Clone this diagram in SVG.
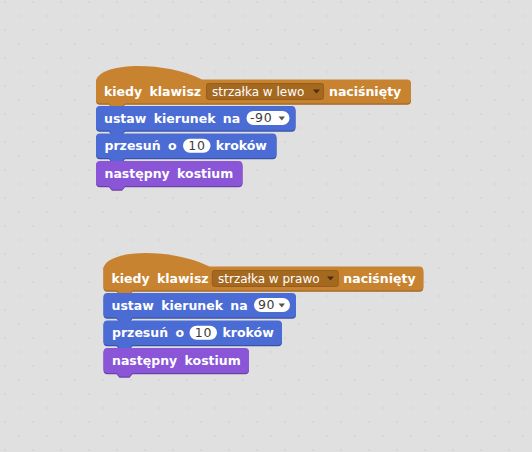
<svg xmlns="http://www.w3.org/2000/svg" xmlns:xlink="http://www.w3.org/1999/xlink" width="532" height="452" viewBox="0 0 532 452">
<style>
.b{font-family:"DejaVu Sans","Verdana",sans-serif;font-weight:bold;font-size:12.5px;fill:#ffffff;word-spacing:3px}
.dd{font-family:"DejaVu Sans","Verdana",sans-serif;font-size:12px;fill:#ffffff}
.num{font-family:"DejaVu Sans","Verdana",sans-serif;font-size:12.5px;fill:#3c3c3c;letter-spacing:0.6px}
.hat{fill:#c88330}.hat .sh{fill:#9f6522}
.mot{fill:#4a6cd4}.mot .sh{fill:#3852a6}
.look{fill:#8a55d7}.look .sh{fill:#6a41a6}
.ddbox{fill:#a5681f;stroke:#8f5818;stroke-width:0.8}
.bub{fill:#ffffff}
.tri{fill:#4a3010}
.tri2{fill:#555555}
</style>
<defs>
<pattern id="dots" width="28" height="28" patternUnits="userSpaceOnUse">
<circle cx="5" cy="2" r="0.9" fill="#d3d3d3"/>
<circle cx="19" cy="16" r="0.9" fill="#d3d3d3"/>
</pattern>
</defs>
<rect width="532" height="452" fill="#e0e0e0"/>
<rect width="532" height="452" fill="url(#dots)"/>

<g id="script1">
<g id="s1-hat" class="hat">
<use xlink:href="#p1a" class="sh" transform="translate(0,1.2)"/>
<path id="p1a" d="M 96,99.5 V 80.5 C 102,61.5 166,61.5 202,79.5 H 407 Q 411,79.5 411,83.5 V 99.5 Q 411,103.5 407,103.5 H 125 L 122,107 H 112 L 109,103.5 H 100 Q 96,103.5 96,99.5 Z"/>
<text class="b" x="104" y="96">kiedy klawisz</text>
<rect class="ddbox" x="206.5" y="83.5" width="117" height="16" rx="2"/>
<text class="dd" x="212" y="96">strzałka w lewo</text>
<path class="tri" d="M 313,89.5 H 320 L 316.5,93.5 Z"/>
<text class="b" x="329" y="96">naciśnięty</text>
</g>
<g id="s1-dir" class="mot">
<use xlink:href="#p1b" class="sh" transform="translate(0,1.2)"/>
<path id="p1b" d="M 100,106 H 291.5 Q 295.5,106 295.5,110 V 126.5 Q 295.5,130.5 291.5,130.5 H 125 L 122,134 H 112 L 109,130.5 H 100 Q 96,130.5 96,126.5 V 110 Q 96,106 100,106 Z"/>
<text class="b" x="104" y="122.7">ustaw kierunek na</text>
<rect class="bub" x="246.5" y="111" width="43" height="14" rx="7"/>
<text class="num" x="250" y="122.3">-90</text>
<path class="tri2" d="M 278.5,116.5 H 285 L 281.75,120.5 Z"/>
</g>
<g id="s1-move" class="mot">
<use xlink:href="#p1c" class="sh" transform="translate(0,1.2)"/>
<path id="p1c" d="M 100,133.5 H 272.5 Q 276.5,133.5 276.5,137.5 V 154 Q 276.5,158 272.5,158 H 125 L 122,161.5 H 112 L 109,158 H 100 Q 96,158 96,154 V 137.5 Q 96,133.5 100,133.5 Z"/>
<text class="b" x="104.5" y="150.2">przesuń o</text>
<rect class="bub" x="183" y="138.8" width="27.5" height="14" rx="7"/>
<text class="num" x="196.9" y="150" text-anchor="middle">10</text>
<text class="b" x="215.7" y="150.2">kroków</text>
</g>
<g id="s1-costume" class="look">
<use xlink:href="#p1d" class="sh" transform="translate(0,1.2)"/>
<path id="p1d" d="M 100,161 H 238.5 Q 242.5,161 242.5,165 V 182 Q 242.5,186 238.5,186 H 125 L 122,189.5 H 112 L 109,186 H 100 Q 96,186 96,182 V 165 Q 96,161 100,161 Z"/>
<text class="b" x="104.5" y="178">następny kostium</text>
</g>
</g>

<g id="script2">
<g id="s2-hat" class="hat">
<use xlink:href="#p2a" class="sh" transform="translate(0,1.2)"/>
<path id="p2a" d="M 103.5,286.5 V 267.5 C 109.5,248.5 173.5,248.5 209.5,266.5 H 419.3 Q 423.3,266.5 423.3,270.5 V 286.5 Q 423.3,290.5 419.3,290.5 H 132.5 L 129.5,294 H 119.5 L 116.5,290.5 H 107.5 Q 103.5,290.5 103.5,286.5 Z"/>
<text class="b" x="111.5" y="283">kiedy klawisz</text>
<rect class="ddbox" x="212.3" y="270.5" width="126" height="16" rx="2"/>
<text class="dd" x="218" y="283">strzałka w prawo</text>
<path class="tri" d="M 327,276.5 H 334 L 330.5,280.5 Z"/>
<text class="b" x="343.3" y="283">naciśnięty</text>
</g>
<g id="s2-dir" class="mot">
<use xlink:href="#p2b" class="sh" transform="translate(0,1.2)"/>
<path id="p2b" d="M 107.5,293 H 292 Q 296,293 296,297 V 313.5 Q 296,317.5 292,317.5 H 132.5 L 129.5,321 H 119.5 L 116.5,317.5 H 107.5 Q 103.5,317.5 103.5,313.5 V 297 Q 103.5,293 107.5,293 Z"/>
<text class="b" x="111.5" y="309.7">ustaw kierunek na</text>
<rect class="bub" x="254" y="298" width="36" height="14" rx="7"/>
<text class="num" x="258" y="309.3">90</text>
<path class="tri2" d="M 278.5,303.5 H 285 L 281.75,307.5 Z"/>
</g>
<g id="s2-move" class="mot">
<use xlink:href="#p2c" class="sh" transform="translate(0,1.2)"/>
<path id="p2c" d="M 107.5,320.5 H 278 Q 282,320.5 282,324.5 V 341 Q 282,345 278,345 H 132.5 L 129.5,348.5 H 119.5 L 116.5,345 H 107.5 Q 103.5,345 103.5,341 V 324.5 Q 103.5,320.5 107.5,320.5 Z"/>
<text class="b" x="112" y="337.2">przesuń o</text>
<rect class="bub" x="189.5" y="325.8" width="27.5" height="14" rx="7"/>
<text class="num" x="203.4" y="337" text-anchor="middle">10</text>
<text class="b" x="222.5" y="337.2">kroków</text>
</g>
<g id="s2-costume" class="look">
<use xlink:href="#p2d" class="sh" transform="translate(0,1.2)"/>
<path id="p2d" d="M 107.5,348 H 245 Q 249,348 249,352 V 369 Q 249,373 245,373 H 132.5 L 129.5,376.5 H 119.5 L 116.5,373 H 107.5 Q 103.5,373 103.5,369 V 352 Q 103.5,348 107.5,348 Z"/>
<text class="b" x="112" y="365">następny kostium</text>
</g>
</g>
</svg>
